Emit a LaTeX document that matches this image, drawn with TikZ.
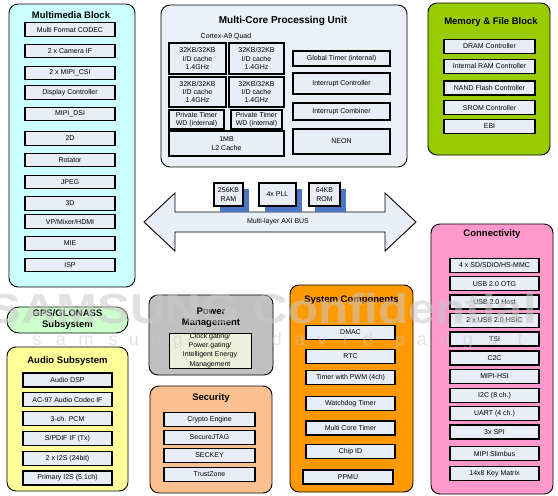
\documentclass[tikz,border=0pt]{standalone}
\usepackage{fontspec}
\setmainfont{Liberation Sans}
\usetikzlibrary{shadows}
\definecolor{mmfill}{HTML}{CCFFFF}
\definecolor{mcfill}{HTML}{EAEFF8}
\definecolor{ibfill}{HTML}{E9EDF7}
\definecolor{memfill}{HTML}{99CC00}
\definecolor{confill}{HTML}{FF99CC}
\definecolor{gpsfill}{HTML}{CCFFCC}
\definecolor{audfill}{HTML}{FFFF99}
\definecolor{pwrfill}{HTML}{C0C0C0}
\definecolor{pwrin}{HTML}{EDF0DA}
\definecolor{secfill}{HTML}{FAC090}
\definecolor{sysfill}{HTML}{FF9900}
\definecolor{busfill}{HTML}{E9EEF8}
\definecolor{shblue}{HTML}{4A76C4}
\definecolor{wmgray}{HTML}{C8C8C8}
\begin{document}
\begin{tikzpicture}[x=1pt,y=-1pt,
  outerbox/.style={draw=black, line width=0.9pt, rounded corners=9pt, inner sep=0pt},
  ib/.style={draw=black, line width=1.1pt, fill=ibfill, inner sep=0pt, align=center,
    font=\fontsize{7}{8.3}\selectfont, minimum height=14pt},
  ttl/.style={font=\bfseries\fontsize{9.5}{11}\selectfont, inner sep=0pt, align=center},
  small/.style={font=\fontsize{7}{8.3}\selectfont, inner sep=0pt, align=center},
  bshadow/.style={drop shadow={shadow xshift=6pt, shadow yshift=-6pt, fill=shblue, opacity=1}}
]
\useasboundingbox (0,0) rectangle (558,496);

% ---------------- Multimedia block
\node[outerbox, fill=mmfill, minimum width=126pt, minimum height=283pt] (mm) at (72,145.5) {};
\node[ttl] (mmt) at (71,15) {Multimedia Block};
\foreach \y/\t [count=\i] in {29.5/Multi Format CODEC, 51/2 x Camera IF, 73/2 x MIPI\_CSI,
  92.5/Display Controller, 114/MIPI\_DSI, 138.5/2D, 160/Rotator, 182/JPEG, 203.5/3D,
  221.5/{VP/Mixer/HDMI}, 243.5/MIE, 265/ISP}
  \node[ib, minimum width=90pt, minimum height=13.3pt] (mm\i) at (70,\y) {\t};

% ---------------- Multi-core processing unit
\node[outerbox, fill=mcfill, minimum width=246pt, minimum height=162pt] (mc) at (284,86) {};
\node[ttl, font=\bfseries\fontsize{10}{12}\selectfont] (mct) at (283,21) {Multi-Core Processing Unit};
\node[small] (cortex) at (226,37) {Cortex-A9 Quad};
\node[ib, minimum width=57pt, minimum height=31pt] (c1) at (197.5,58.5) {32KB/32KB\\I/D cache\\1.4GHz};
\node[ib, minimum width=55pt, minimum height=31pt] (c2) at (256.5,58.5) {32KB/32KB\\I/D cache\\1.4GHz};
\node[ib, minimum width=57pt, minimum height=30pt] (c3) at (197.5,92) {32KB/32KB\\I/D cache\\1.4GHz};
\node[ib, minimum width=55pt, minimum height=30pt] (c4) at (256.5,92) {32KB/32KB\\I/D cache\\1.4GHz};
\node[ib, minimum width=55pt, minimum height=19pt] (pt1) at (196.5,119.5) {Private Timer\\WD (internal)};
\node[ib, minimum width=51pt, minimum height=19pt] (pt2) at (256.5,119.5) {Private Timer\\WD (internal)};
\node[ib, minimum width=115pt, minimum height=25pt] (l2) at (226.5,143.5) {1MB\\L2 Cache};
\node[ib, minimum width=97pt, minimum height=15pt] (gt) at (341.5,58.5) {Global Timer (internal)};
\node[ib, minimum width=97pt, minimum height=21pt] (ic) at (341.5,83.5) {Interrupt Controller};
\node[ib, minimum width=97pt, minimum height=17pt] (icb) at (341.5,111.5) {Interrupt Combiner};
\node[ib, minimum width=97pt, minimum height=25pt] (neon) at (341.5,141.5) {NEON};

% ---------------- Memory & File block
\node[outerbox, fill=memfill, minimum width=122pt, minimum height=152pt] (mem) at (489,79) {};
\node[ttl] (memt) at (491,22) {Memory \& File Block};
\foreach \y/\t [count=\i] in {46.3/DRAM Controller, 66.3/Internal RAM Controller,
  88/NAND Flash Controller, 107.5/SROM Controller, 126.3/EBI}
  \node[ib, minimum width=91pt] (mem\i) at (489.5,\y) {\t};

% ---------------- AXI bus
\draw[fill=busfill, line width=0.9pt, line join=miter]
  (144,222) -- (175,193) -- (175,212) -- (385,212) -- (385,193) -- (416,222)
  -- (385,251) -- (385,232) -- (175,232) -- (175,251) -- cycle;
\node[small] (bus) at (278,222) {Multi-layer AXI BUS};
\node[ib, bshadow, minimum width=29pt, minimum height=23pt] (ram) at (228.5,194.5) {256KB\\RAM};
\node[ib, bshadow, minimum width=37pt, minimum height=23pt] (pll) at (277.5,194.5) {4x PLL};
\node[ib, bshadow, minimum width=31pt, minimum height=23pt] (rom) at (324.5,194.5) {64KB\\ROM};

% ---------------- Connectivity
\node[outerbox, fill=confill, minimum width=122pt, minimum height=270pt] (con) at (492,359) {};
\node[ttl] (cont) at (492,234) {Connectivity};
\foreach \y/\t [count=\i] in {265.3/{4 x SD/SDIO/HS-MMC}, 283.7/USB 2.0 OTG, 302/USB 2.0 Host,
  320.3/2 x USB 2.0 HSIC, 339/TSI, 358/C2C, 376.2/MIPI-HSI, 395.3/I2C (8 ch.),
  413.7/UART (4 ch.), 432/3x SPI, 453.7/MIPI Slimbus, 473.7/14x8 Key Matrix}
  \node[ib, minimum width=89pt] (con\i) at (494.5,\y) {\t};

% ---------------- GPS
\node[outerbox, fill=gpsfill, rounded corners=12pt, minimum width=121pt, minimum height=26pt] (gps) at (67.5,320) {};
\node[ttl, font=\bfseries\fontsize{9.5}{11}\selectfont] (gpst) at (67.5,320) {GPS/GLONASS\\Subsystem};

% ---------------- Audio
\node[outerbox, fill=audfill, minimum width=121pt, minimum height=144pt] (aud) at (67.5,419) {};
\node[ttl] (audt) at (67.5,361) {Audio Subsystem};
\foreach \y/\t [count=\i] in {380/Audio DSP, 399.7/AC-97 Audio Codec IF, 418.7/3-ch. PCM,
  438.7/{S/PDIF IF (Tx)}, 458.7/2 x I2S (24bit), 478/Primary I2S (5.1ch)}
  \node[ib, minimum width=89pt] (aud\i) at (67.5,\y) {\t};

% ---------------- Power management
\node[outerbox, fill=pwrfill, minimum width=124pt, minimum height=80pt] (pwr) at (211,335) {};
\node[ttl, font=\bfseries\fontsize{9.5}{11.5}\selectfont] (pwrt) at (211,317.5) {Power\\Management};
\node[draw=black, line width=0.8pt, fill=pwrin, inner sep=0pt, align=center,
  font=\fontsize{7}{9.2}\selectfont, minimum width=82pt, minimum height=35pt] (pwri) at (210,350.5)
  {Clock gating/\\Power gating/\\Intelligent Energy\\Management};

% ---------------- Security
\node[outerbox, fill=secfill, minimum width=122pt, minimum height=107pt] (sec) at (211,439.5) {};
\node[ttl] (sect) at (211,398) {Security};
\foreach \y/\t [count=\i] in {419.5/Crypto Engine, 437.5/SecureJTAG, 455.3/SECKEY, 474.5/TrustZone}
  \node[ib, minimum width=91pt] (sec\i) at (209.5,\y) {\t};

% ---------------- System components
\node[outerbox, fill=sysfill, minimum width=123pt, minimum height=207pt] (sys) at (351.5,388.5) {};
\node[ttl] (syst) at (351.5,300) {System Components};
\foreach \y/\t [count=\i] in {332.5/DMAC, 356.3/RTC, 377.8/Timer with PWM (4ch),
  403.3/Watchdog Timer, 428/Multi Core Timer, 451.5/Chip ID}
  \node[ib, minimum width=89pt] (sys\i) at (350.5,\y) {\t};
\node[ib, minimum width=90pt] (sys7) at (348,477) {PPMU};

% ---------------- Watermark
\node[anchor=base west, inner sep=0pt, text=wmgray, opacity=0.55, xscale=1.17,
  font=\bfseries\fontsize{42}{42}\selectfont] (wm) at (-12,323) {SAMSUNG Confidential};
\foreach \c/\x [count=\i] in {s/37,a/61,m/86,s/113,u/134,n/156,g/178,d/277,a/300,v/322,i/345,d/368,./386,p/400,a/422,n/445,g/468,a/493,t/520}
  \node[anchor=base, inner sep=0pt, text=wmgray, opacity=0.5,
    font=\fontsize{18}{18}\selectfont] (wl\i) at (\x,345) {\c};
\end{tikzpicture}
\end{document}
